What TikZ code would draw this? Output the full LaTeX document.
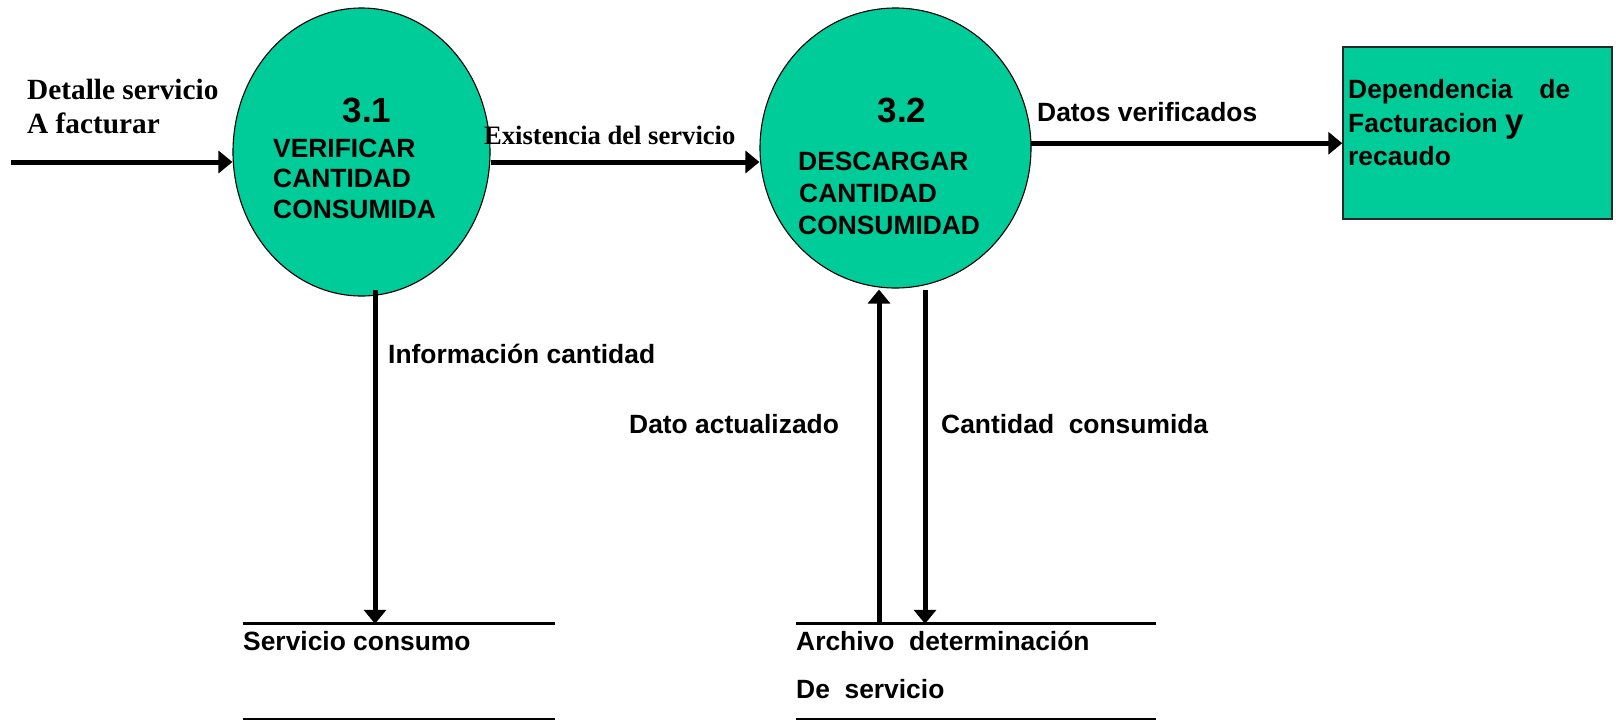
\documentclass[tikz,border=0pt]{standalone}
\usepackage{fontspec}
\setmainfont{Liberation Sans}
\newfontfamily\timesf{Liberation Serif}
\usetikzlibrary{arrows.meta,shapes.geometric}
\definecolor{procgreen}{RGB}{0,204,153}
\definecolor{boxedge}{RGB}{40,40,40}
\begin{document}
\begin{tikzpicture}[x=1pt,y=-1pt,
  proc/.style={ellipse, draw=black, line width=1.1pt, fill=procgreen, inner sep=0pt},
  flow/.style={line width=5pt, -{Triangle[length=14pt,width=22pt]}},
  lbl/.style={anchor=base west, inner sep=0pt, font=\fontsize{26.4}{30}\selectfont\bfseries},
  numlbl/.style={anchor=base, inner sep=0pt, font=\fontsize{35}{40}\selectfont\bfseries},
  tlbl/.style={anchor=base west, inner sep=0pt, font=\fontsize{29.3}{34}\selectfont\timesf\bfseries},
  slbl/.style={anchor=base west, inner sep=0pt, font=\fontsize{26.6}{30}\selectfont\timesf\bfseries},
  store/.style={inner sep=0pt, minimum height=95pt}
]
\useasboundingbox (0,0) rectangle (1616,721);

% processes and entity
\node[proc, minimum width=257pt, minimum height=288pt] (p1) at (361.5,152) {};
\node[proc, minimum width=271pt, minimum height=280pt] (p2) at (895.5,148) {};
\node[draw=boxedge, line width=1.5pt, fill=procgreen, inner sep=0pt,
      minimum width=269pt, minimum height=172pt] (ent) at (1477.5,133) {};

% data stores
\node[store, minimum width=312pt] (s1) at (399,671.5) {};
\node[store, minimum width=360pt] (s2) at (976,671.5) {};
\draw[line width=3pt] (s1.north west) -- (s1.north east);
\draw[line width=2.5pt] (s1.south west) -- (s1.south east);
\draw[line width=3pt] (s2.north west) -- (s2.north east);
\draw[line width=2.5pt] (s2.south west) -- (s2.south east);

% texts inside processes
\node[numlbl] (n31) at (367,122) {3.1};
\node[lbl] (t31a) at (273,157) {VERIFICAR};
\node[lbl] (t31b) at (273,187.5) {CANTIDAD};
\node[lbl] (t31c) at (273,218) {CONSUMIDA};
\node[numlbl] (n32) at (902,122) {3.2};
\node[lbl] (t32a) at (798,170) {DESCARGAR};
\node[lbl] (t32b) at (799,202) {CANTIDAD};
\node[lbl] (t32c) at (798,234) {CONSUMIDAD};

% entity text
\node[lbl] (e1) at (1348,98) {\makebox[222pt][s]{Dependencia\hfill de}};
\node[lbl] (e2) at (1348,132) {Facturacion {\fontsize{33}{36}\selectfont y}};
\node[lbl] (e3) at (1348,165) {recaudo};

% store texts
\node[lbl] (st1) at (243,650) {Servicio consumo};
\node[lbl] (st2a) at (796,650) {Archivo~~determinación};
\node[lbl] (st2b) at (796,698) {De~~servicio};

% connectors
\coordinate (in) at (11,162);
\draw[flow] (in) -- (in -| p1.west);
\draw[flow] (p1.east |- in) -- (p2.west |- in);
\draw[flow] (p2.2) -- (p2.2 -| ent.west);
\coordinate (d1) at ([shift={(13.5pt,7pt)}]p1.south);
\draw[flow] (d1) -- (d1 |- s1.north);
\coordinate (u2) at ([shift={(-16.5pt,-1pt)}]p2.south);
\draw[flow] (u2 |- s2.north) -- (u2);
\coordinate (d2) at ([shift={(29.5pt,-1pt)}]p2.south);
\draw[flow] (d2) -- (d2 |- s2.north);

% flow labels
\node[tlbl] (l1a) at (27,99) {Detalle servicio};
\node[tlbl] (l1b) at (27,133) {A facturar};
\node[slbl] (l2) at (484,144) {Existencia del servicio};
\node[lbl] (l3) at (1037,121) {Datos verificados};
\node[lbl] (l4) at (388,363) {Información cantidad};
\node[lbl] (l5) at (629,433) {Dato actualizado};
\node[lbl] (l6) at (941,433) {Cantidad~~consumida};
\end{tikzpicture}
\end{document}
